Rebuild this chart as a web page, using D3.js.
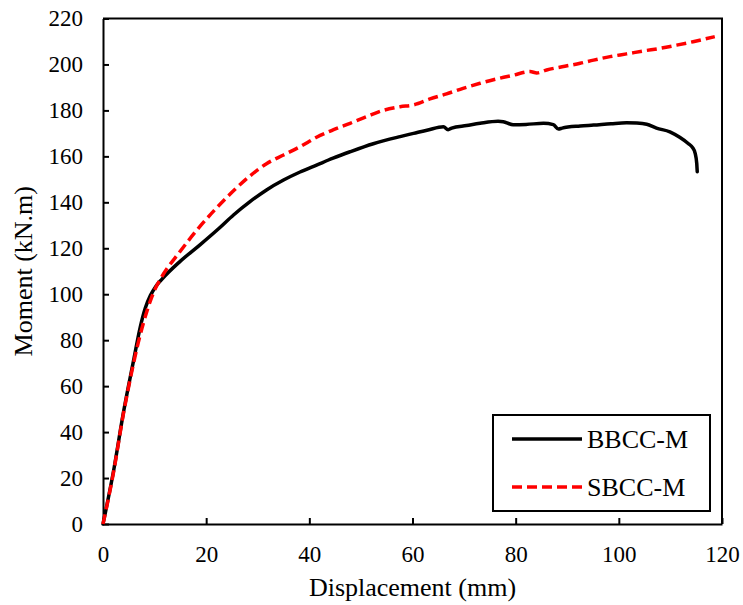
<!DOCTYPE html>
<html>
<head>
<meta charset="utf-8">
<script src="https://cdn.jsdelivr.net/npm/d3@7"></script>
<style>
  html, body { margin: 0; padding: 0; background: #fff; }
  svg { display: block; }
  text { font-family: "Liberation Serif", "Times New Roman", serif; fill: #000; }
</style>
</head>
<body>
<svg id="chart" width="743" height="605"></svg>
<script>
// Moment–displacement response of the two specimens
const seriesNames = ["BBCC-M", "SBCC-M"];

const bbccDisp = [0, 2.0, 4.0, 6.0, 7.2, 8.2, 9.2, 10.2, 11.4, 14.9, 18.8, 22.4, 25.3, 28.5, 31.7, 35.0, 38.2, 41.4, 44.6, 47.9, 52.4, 57.6, 60.2, 63.0, 66.0, 66.9, 67.6, 70.5, 73.1, 76.6, 77.6, 79.5, 82.0, 85.4, 87.3, 88.3, 89.0, 92.5, 95.1, 98.5, 101.5, 103.5, 105.4, 107.3, 109.9, 111.8, 113.5, 114.3, 114.8, 115.1, 115.2];
const bbccMoment = [0, 22.5, 49, 72, 85.5, 94, 99.5, 103.3, 106.5, 114.2, 121.5, 128.5, 134.5, 140.3, 145.4, 149.7, 153.2, 156.2, 159.2, 162.0, 165.5, 168.6, 170.0, 171.5, 172.9, 171.6, 172.3, 173.4, 174.4, 175.3, 175.1, 173.8, 173.9, 174.4, 173.8, 171.9, 172.3, 173.2, 173.6, 174.2, 174.6, 174.5, 174.0, 172.3, 170.7, 168.3, 165.5, 163.8, 161.3, 157.0, 153.3];

const sbccDisp = [0, 2.0, 4.0, 5.0, 6.8, 8.5, 10.1, 11.4, 14.9, 18.8, 22.0, 25.3, 28.5, 31.7, 35.0, 38.2, 41.4, 44.6, 47.9, 51.1, 54.3, 57.6, 60.2, 63.4, 66.6, 69.8, 73.1, 76.3, 79.5, 82.8, 84.1, 86.0, 89.0, 92.5, 95.1, 98.3, 101.5, 104.8, 108.0, 111.2, 114.4, 118.6];
const sbccMoment = [0, 22, 48.5, 60, 78.6, 92.5, 102.3, 107.6, 118.5, 129.5, 137.5, 145.0, 151.5, 156.8, 160.6, 164.2, 168.3, 171.5, 174.4, 177.3, 180.0, 181.6, 182.4, 185.0, 187.2, 189.6, 191.8, 193.7, 195.3, 196.9, 196.3, 197.6, 199.0, 200.5, 201.9, 203.4, 204.6, 205.9, 207.0, 208.4, 209.9, 212.1];

const xTicks = [0, 20, 40, 60, 80, 100, 120];
const yTicks = [0, 20, 40, 60, 80, 100, 120, 140, 160, 180, 200, 220];

const svg = d3.select("#chart");
const plotLeft = 103, plotRight = 722, plotTop = 18.5, plotBottom = 524;

const x = d3.scaleLinear().domain([0, 120]).range([plotLeft, plotRight]);
const y = d3.scaleLinear().domain([0, 220]).range([plotBottom, plotTop]);

// plot frame (top and right edges)
svg.append("path")
  .attr("d", `M${plotLeft},${plotTop}H${plotRight}V${plotBottom}`)
  .attr("fill", "none").attr("stroke", "#000").attr("stroke-width", 2);

// axes with inward ticks
const xAxis = svg.append("g")
  .attr("transform", `translate(0,${plotBottom})`)
  .call(d3.axisBottom(x).tickValues(xTicks).tickSizeInner(-6).tickSizeOuter(0).tickPadding(22));
const yAxis = svg.append("g")
  .attr("transform", `translate(${plotLeft},0)`)
  .call(d3.axisLeft(y).tickValues(yTicks).tickSizeInner(-6).tickSizeOuter(0).tickPadding(20));

[xAxis, yAxis].forEach(g => {
  g.select(".domain").attr("stroke", "#000").attr("stroke-width", 2);
  g.selectAll(".tick line").attr("stroke", "#000").attr("stroke-width", 2);
  g.selectAll(".tick text")
    .attr("font-family", "Liberation Serif, Times New Roman, serif")
    .attr("font-size", 23).attr("fill", "#000");
});

// axis titles
svg.append("text")
  .attr("x", (plotLeft + plotRight) / 2).attr("y", 596)
  .attr("text-anchor", "middle").attr("font-size", 26)
  .text("Displacement (mm)");
svg.append("text")
  .attr("transform", `translate(32,${(plotTop + plotBottom) / 2}) rotate(-90)`)
  .attr("text-anchor", "middle").attr("font-size", 26)
  .text("Moment (kN.m)");

const line = d3.line()
  .x(d => x(d[0])).y(d => y(d[1]))
  .curve(d3.curveMonotoneX);

const bbcc = d3.zip(bbccDisp, bbccMoment);
const sbcc = d3.zip(sbccDisp, sbccMoment);

svg.append("path").datum(bbcc)
  .attr("d", line).attr("fill", "none")
  .attr("stroke", "#000").attr("stroke-width", 3.5)
  .attr("stroke-linejoin", "round").attr("stroke-linecap", "round");

svg.append("path").datum(sbcc)
  .attr("d", line).attr("fill", "none")
  .attr("stroke", "#ff0000").attr("stroke-width", 3.5)
  .attr("stroke-dasharray", "10,5");

// legend
const legend = svg.append("g");
legend.append("rect")
  .attr("x", 493).attr("y", 415).attr("width", 217).attr("height", 96)
  .attr("fill", "#fff").attr("stroke", "#000").attr("stroke-width", 2);

const legendStyles = [
  { color: "#000", dash: null },
  { color: "#ff0000", dash: "10,5" }
];
seriesNames.forEach((name, i) => {
  const ly = 439 + i * 48;
  legend.append("line")
    .attr("x1", 512).attr("x2", 582).attr("y1", ly).attr("y2", ly)
    .attr("stroke", legendStyles[i].color).attr("stroke-width", 3.5)
    .attr("stroke-dasharray", legendStyles[i].dash);
  legend.append("text")
    .attr("x", 587).attr("y", ly + 8.5)
    .attr("font-size", 26)
    .text(name);
});
</script>
</body>
</html>
